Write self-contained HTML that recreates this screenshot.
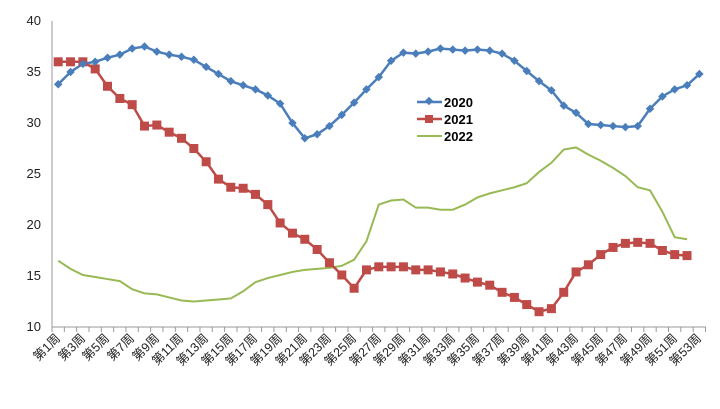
<!DOCTYPE html>
<html><head><meta charset="utf-8"><style>
html,body{margin:0;padding:0;background:#fff;}
svg{display:block;font-family:"Liberation Sans","Noto Sans CJK SC",sans-serif;}
.yl{font-size:13px;fill:#222;text-anchor:end;}
.xl{font-size:12.5px;fill:#222;text-anchor:end;}
.lg{font-size:13px;font-weight:bold;fill:#000;}
</style></head><body>
<svg id="s" width="720" height="409" viewBox="0 0 720 409">
<line x1="52" y1="21" x2="52" y2="327" stroke="#999" stroke-width="1"/>
<line x1="52" y1="327" x2="706" y2="327" stroke="#999" stroke-width="1"/>
<g id="ticks" stroke="#999"></g>
<text class="yl" x="41" y="25">40</text>
<text class="yl" x="41" y="76">35</text>
<text class="yl" x="41" y="127">30</text>
<text class="yl" x="41" y="178">25</text>
<text class="yl" x="41" y="229">20</text>
<text class="yl" x="41" y="280">15</text>
<text class="yl" x="41" y="331">10</text>
<g id="xlabels">
<text class="xl" transform="translate(61,339) rotate(-45)">第1周</text>
<text class="xl" transform="translate(86,339) rotate(-45)">第3周</text>
<text class="xl" transform="translate(110,339) rotate(-45)">第5周</text>
<text class="xl" transform="translate(135,339) rotate(-45)">第7周</text>
<text class="xl" transform="translate(160,339) rotate(-45)">第9周</text>
<text class="xl" transform="translate(184,339) rotate(-45)">第11周</text>
<text class="xl" transform="translate(209,339) rotate(-45)">第13周</text>
<text class="xl" transform="translate(234,339) rotate(-45)">第15周</text>
<text class="xl" transform="translate(258,339) rotate(-45)">第17周</text>
<text class="xl" transform="translate(283,339) rotate(-45)">第19周</text>
<text class="xl" transform="translate(308,339) rotate(-45)">第21周</text>
<text class="xl" transform="translate(332,339) rotate(-45)">第23周</text>
<text class="xl" transform="translate(357,339) rotate(-45)">第25周</text>
<text class="xl" transform="translate(382,339) rotate(-45)">第27周</text>
<text class="xl" transform="translate(406,339) rotate(-45)">第29周</text>
<text class="xl" transform="translate(431,339) rotate(-45)">第31周</text>
<text class="xl" transform="translate(456,339) rotate(-45)">第33周</text>
<text class="xl" transform="translate(480,339) rotate(-45)">第35周</text>
<text class="xl" transform="translate(505,339) rotate(-45)">第37周</text>
<text class="xl" transform="translate(530,339) rotate(-45)">第39周</text>
<text class="xl" transform="translate(554,339) rotate(-45)">第41周</text>
<text class="xl" transform="translate(579,339) rotate(-45)">第43周</text>
<text class="xl" transform="translate(604,339) rotate(-45)">第45周</text>
<text class="xl" transform="translate(628,339) rotate(-45)">第47周</text>
<text class="xl" transform="translate(653,339) rotate(-45)">第49周</text>
<text class="xl" transform="translate(678,339) rotate(-45)">第51周</text>
<text class="xl" transform="translate(702,339) rotate(-45)">第53周</text>
</g>
<g id="series"></g>
<line x1="417" y1="102" x2="442" y2="102" stroke="#4a7ebb" stroke-width="2.5"/>
<rect x="426" y="98" width="6" height="6" fill="#4a7ebb" transform="rotate(45 429 101)"/>
<text class="lg" x="444" y="107">2020</text>
<line x1="417" y1="119" x2="442" y2="119" stroke="#be4b48" stroke-width="2.5"/>
<rect x="425" y="115" width="8" height="8" fill="#be4b48"/>
<text class="lg" x="444" y="124">2021</text>
<line x1="417" y1="136" x2="442" y2="136" stroke="#98b954" stroke-width="2"/>
<text class="lg" x="444" y="141">2022</text>
</svg>
<script>
var d20=[33.8,35,35.8,36,36.4,36.7,37.3,37.5,37,36.7,36.5,36.2,35.5,34.8,34.1,33.7,33.3,32.7,31.9,30,28.5,28.9,29.7,30.8,32,33.3,34.5,36.1,36.9,36.8,37,37.3,37.2,37.1,37.2,37.1,36.8,36.1,35.1,34.1,33.2,31.7,31,29.9,29.8,29.7,29.6,29.7,31.4,32.6,33.3,33.7,34.8];
var d21=[36,36,36,35.3,33.6,32.4,31.8,29.7,29.8,29.1,28.5,27.5,26.2,24.5,23.7,23.6,23,22,20.2,19.2,18.6,17.6,16.3,15.1,13.8,15.6,15.9,15.9,15.9,15.6,15.6,15.4,15.2,14.8,14.4,14.1,13.4,12.9,12.2,11.5,11.8,13.4,15.4,16.1,17.1,17.8,18.2,18.3,18.2,17.5,17.1,17.0];
var d22=[16.5,15.7,15.1,14.9,14.7,14.5,13.7,13.3,13.2,12.9,12.6,12.5,12.6,12.7,12.8,13.5,14.4,14.8,15.1,15.4,15.6,15.7,15.8,16,16.6,18.4,22,22.4,22.5,21.7,21.7,21.5,21.5,22,22.7,23.1,23.4,23.7,24.1,25.2,26.1,27.4,27.6,26.9,26.3,25.6,24.8,23.7,23.4,21.3,18.8,18.6];
var NS="http://www.w3.org/2000/svg",st=12.33;
function X(i){return 58.2+i*st}function Y(v){return 327-(v-10)*10.2}
var g=document.getElementById('series'),tk=document.getElementById('ticks');
for(var i=0;i<=53;i++){var l=document.createElementNS(NS,'line');var x=52+i*st;l.setAttribute('x1',x);l.setAttribute('x2',x);l.setAttribute('y1',327);l.setAttribute('y2',332);tk.appendChild(l);}
function line(d,c,w){var p=document.createElementNS(NS,'polyline');p.setAttribute('points',d.map(function(v,i){return X(i)+','+Y(v)}).join(' '));p.setAttribute('fill','none');p.setAttribute('stroke',c);p.setAttribute('stroke-width',w);g.appendChild(p);}
line(d22,'#98b954',2);line(d21,'#be4b48',2.5);line(d20,'#4a7ebb',2.5);
d21.forEach(function(v,i){var r=document.createElementNS(NS,'rect');r.setAttribute('x',X(i)-4.5);r.setAttribute('y',Y(v)-4.5);r.setAttribute('width',9);r.setAttribute('height',9);r.setAttribute('fill','#be4b48');g.appendChild(r);});
d20.forEach(function(v,i){var r=document.createElementNS(NS,'rect');r.setAttribute('x',X(i)-3);r.setAttribute('y',Y(v)-3);r.setAttribute('width',6);r.setAttribute('height',6);r.setAttribute('fill','#4a7ebb');r.setAttribute('transform','rotate(45 '+X(i)+' '+Y(v)+')');g.appendChild(r);});
</script>
</body></html>
